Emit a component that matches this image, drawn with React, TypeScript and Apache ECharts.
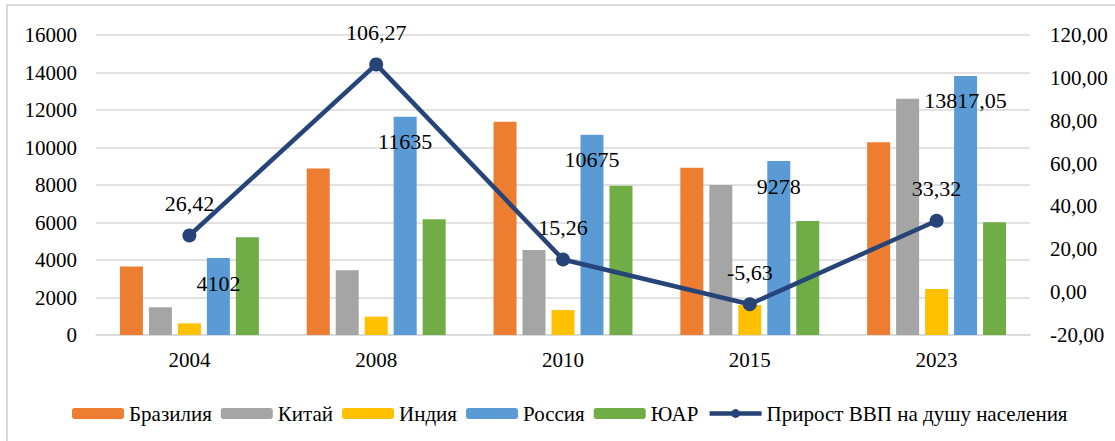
import React, { useEffect, useRef } from "react";
import * as echarts from "echarts";

const years = ["2004", "2008", "2010", "2015", "2023"];
const brazil = [3650, 8880, 11380, 8920, 10280];
const china = [1480, 3450, 4530, 8000, 12600];
const india = [620, 980, 1330, 1600, 2450];
const russia = [4102, 11635, 10675, 9278, 13817.05];
const sar = [5210, 6170, 7960, 6080, 6010];
const gdpGrowth = [26.42, 106.27, 15.26, -5.63, 33.32];

const leftTicks = { min: 0, max: 16000, interval: 2000 };
const rightTicks = { min: -20, max: 120, interval: 20 };

const FONT = "Liberation Serif, DejaVu Serif, serif";

const fmtComma = (v: number) => String(v).replace(".", ",");

export default function App() {
  const ref = useRef<HTMLDivElement>(null);
  useEffect(() => {
    if (!ref.current) return;
    const chart = echarts.init(ref.current, undefined, { renderer: "svg" });
    const barBase = (name: string, data: number[], color: string) => ({
      name,
      type: "bar",
      data,
      barWidth: 23,
      barGap: "26%",
      itemStyle: { color },
      yAxisIndex: 0,
    });
    chart.setOption({
      animation: false,
      textStyle: { fontFamily: FONT },
      graphic: [
        {
          type: "rect",
          shape: { x: 7, y: 5, width: 1200, height: 500 },
          style: { fill: "none", stroke: "#D9D9D9", lineWidth: 2 },
          silent: true,
        },
      ],
      grid: { left: 96, right: 85, top: 35, bottom: 106 },
      legend: {
        left: 67,
        top: 398,
        itemWidth: 52,
        itemHeight: 11,
        itemGap: 9,
        textStyle: { fontFamily: FONT, fontSize: 21, color: "#000" },
        data: [
          "Бразилия",
          "Китай",
          "Индия",
          "Россия",
          "ЮАР",
          { name: "Прирост ВВП на душу населения", lineStyle: { width: 4.5, color: "#264478" } },
        ],
      },
      xAxis: {
        type: "category",
        data: years,
        axisTick: { show: false },
        axisLine: { lineStyle: { color: "#D9D9D9", width: 1.5 } },
        axisLabel: { fontFamily: FONT, fontSize: 21, color: "#000", margin: 14 },
      },
      yAxis: [
        {
          type: "value",
          ...leftTicks,
          axisLine: { show: false },
          axisTick: { show: false },
          splitLine: { lineStyle: { color: "#D9D9D9", width: 1.5 } },
          axisLabel: {
            fontFamily: FONT,
            fontSize: 21,
            color: "#000",
            margin: 19,
            formatter: (v: number) => String(v),
          },
        },
        {
          type: "value",
          ...rightTicks,
          axisLine: { show: false },
          axisTick: { show: false },
          splitLine: { show: false },
          axisLabel: {
            fontFamily: FONT,
            fontSize: 21,
            color: "#000",
            margin: 20,
            formatter: (v: number) => v.toFixed(2).replace(".", ","),
          },
        },
      ],
      series: [
        barBase("Бразилия", brazil, "#ED7D31"),
        barBase("Китай", china, "#A5A5A5"),
        barBase("Индия", india, "#FFC000"),
        {
          ...barBase("Россия", russia, "#5B9BD5"),
          label: {
            show: true,
            position: "insideTop",
            distance: 14,
            fontFamily: FONT,
            fontSize: 22,
            color: "#000",
            formatter: (p: any) => fmtComma(p.value),
          },
        },
        barBase("ЮАР", sar, "#70AD47"),
        {
          name: "Прирост ВВП на душу населения",
          type: "line",
          yAxisIndex: 1,
          data: gdpGrowth,
          z: 5,
          symbol: "circle",
          symbolSize: 14,
          lineStyle: { color: "#264478", width: 4.5 },
          itemStyle: { color: "#264478" },
          label: {
            show: true,
            position: "top",
            distance: 14,
            fontFamily: FONT,
            fontSize: 22,
            color: "#000",
            formatter: (p: any) => fmtComma(p.value),
          },
        },
      ],
    });
    return () => chart.dispose();
  }, []);
  return (
    <div
      ref={ref}
      style={{ position: "fixed", left: 0, top: 0, width: 1115, height: 441, background: "#fff" }}
    />
  );
}
